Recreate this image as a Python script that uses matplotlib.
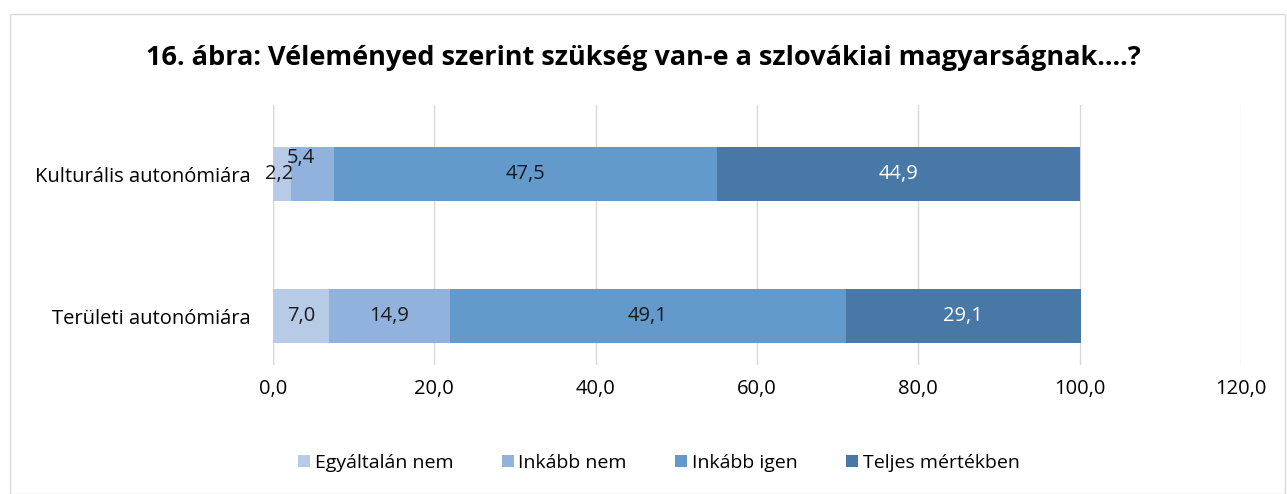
import matplotlib.pyplot as plt
from matplotlib.patches import Rectangle

plt.rcParams['font.family'] = ['Open Sans', 'DejaVu Sans']

categories = ['Területi autonómiára', 'Kulturális autonómiára']
series = ['Egyáltalán nem', 'Inkább nem', 'Inkább igen', 'Teljes mértékben']
values = {
    'Egyáltalán nem': [7.0, 2.2],
    'Inkább nem': [14.9, 5.4],
    'Inkább igen': [49.1, 47.5],
    'Teljes mértékben': [29.1, 44.9],
}
colors = ['#b7cae6', '#91b2dd', '#6499cc', '#4878a6']
label_colors = ['#1a1a1a', '#1a1a1a', '#1a1a1a', 'white']
ticks = [0, 20, 40, 60, 80, 100, 120]

fig = plt.figure(figsize=(12.87, 4.94), dpi=100)
ax = fig.add_axes([0.2121, 0.261, 0.7522, 0.5264])

ypos = list(range(len(categories)))
left = [0.0] * len(categories)
for s, c, lc in zip(series, colors, label_colors):
    vals = values[s]
    ax.barh(ypos, vals, left=left, height=0.38, color=c, label=s, zorder=2)
    for i, v in enumerate(vals):
        x = left[i] + v / 2
        dy = 0
        if s == 'Egyáltalán nem' and v < 3:
            x = left[i] + v / 2 - 0.3
        if s == 'Inkább nem' and v < 6:
            x = left[i] + v / 2 - 1.5
            dy = 0.11
        ax.text(x, ypos[i] + dy, f'{v:.1f}'.replace('.', ','), ha='center', va='center',
                color=lc, fontsize=14.5, zorder=3)
    left = [l + v for l, v in zip(left, vals)]

ax.set_xlim(0, 120)
ax.set_ylim(-0.345, 1.486)
ax.set_xticks(ticks)
ax.set_xticklabels([f'{t:.1f}'.replace('.', ',') for t in ticks], fontsize=14.5)
ax.set_yticks(ypos)
ax.set_yticklabels(categories, fontsize=14.5)
ax.grid(axis='x', color='#d9d9d9', linewidth=1, zorder=0)
ax.tick_params(length=0, pad=10)
ax.tick_params(axis='y', pad=16)
for sp in ax.spines.values():
    sp.set_visible(False)
ax.axvline(0, color='#d9d9d9', linewidth=1, zorder=1)

fig.text(0.5, 0.883, '16. ábra: Véleményed szerint szükség van-e a szlovákiai magyarságnak....?',
         ha='center', va='center', fontsize=19.5, fontweight='bold')

ax.legend(loc='center', bbox_to_anchor=(0.512, 0.0626), bbox_transform=fig.transFigure,
          ncol=4, frameon=False, fontsize=14, handlelength=0.6, handleheight=0.6,
          handletextpad=0.25, columnspacing=2.5)

fig.patches.append(Rectangle((10 / 1287, 0), 1 - 12 / 1287, 1 - 14 / 494,
                             transform=fig.transFigure, fill=False,
                             edgecolor='#d9d9d9', linewidth=1))

fig.savefig('out.png', dpi=100)
